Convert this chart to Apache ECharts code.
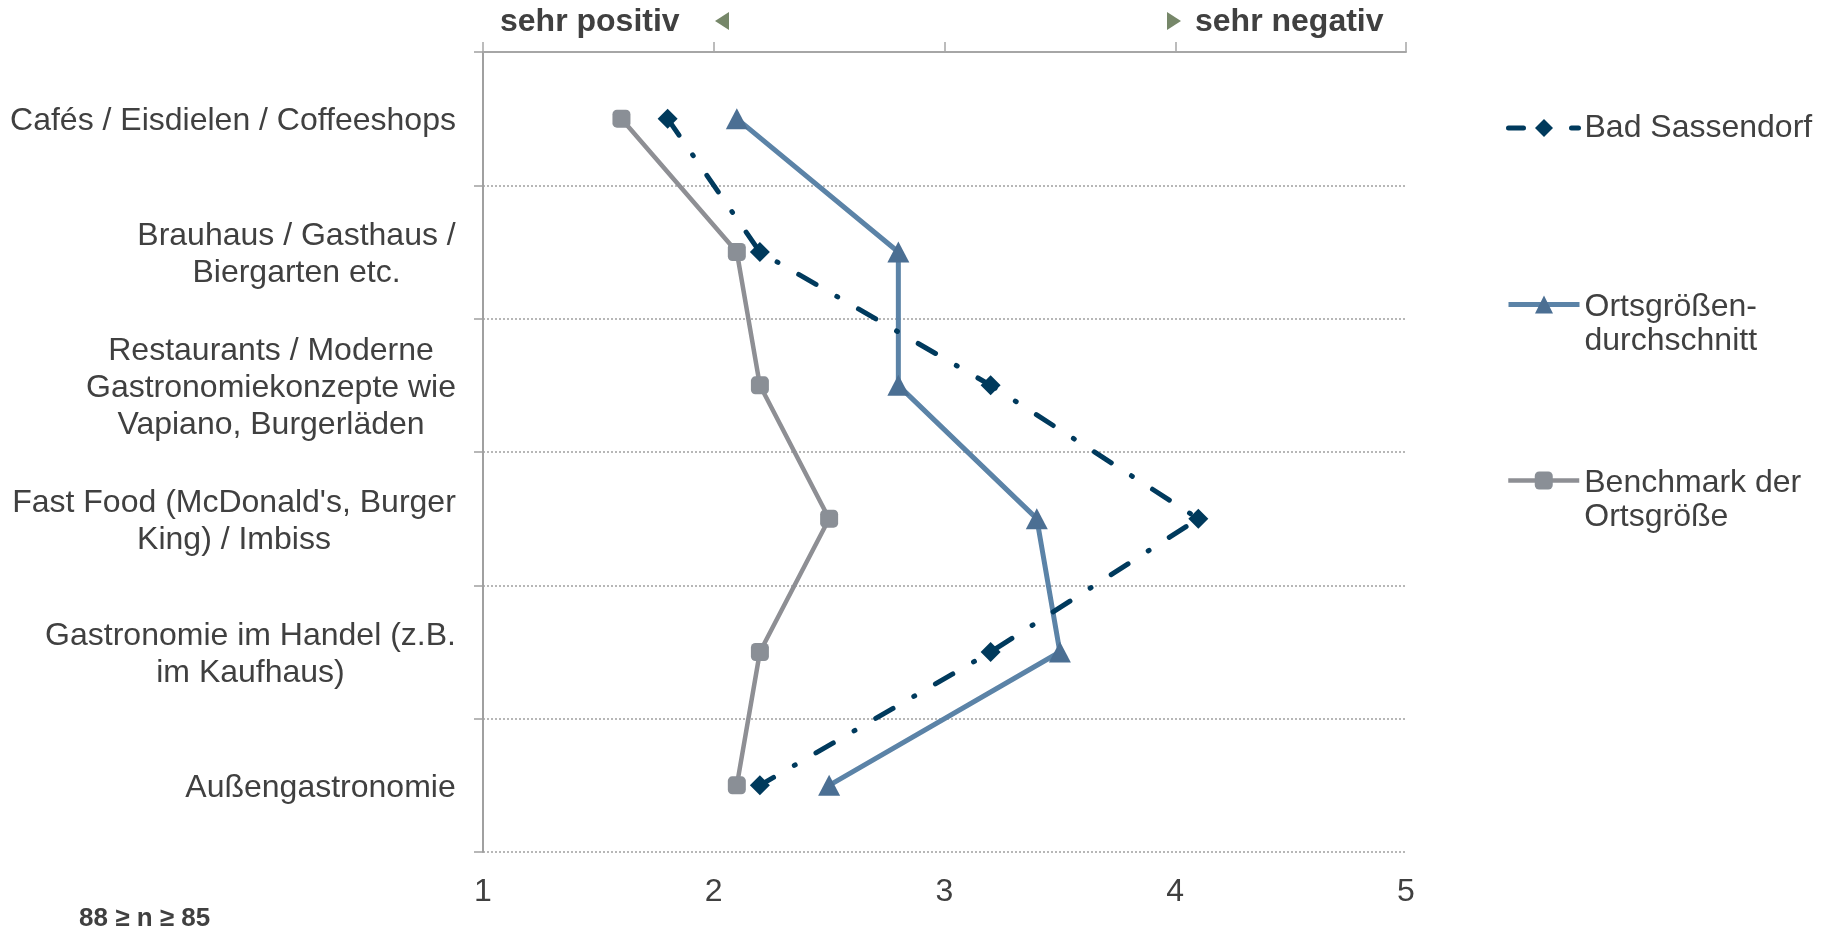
<!DOCTYPE html>
<html>
<head>
<meta charset="utf-8">
<script src="https://cdn.jsdelivr.net/npm/echarts@6/dist/echarts.min.js"></script>
<style>
html,body{margin:0;padding:0;background:#fff;}
#chart{width:1825px;height:927px;}
</style>
</head>
<body>
<div id="chart"></div>
<script>
// ---- data ----
const categories = [
  "Cafés / Eisdielen / Coffeeshops",
  "Brauhaus / Gasthaus /\nBiergarten etc.",
  "Restaurants / Moderne\nGastronomiekonzepte wie\nVapiano, Burgerläden",
  "Fast Food (McDonald's, Burger\nKing) / Imbiss",
  "Gastronomie im Handel (z.B.\nim Kaufhaus)",
  "Außengastronomie"
];
const badSassendorf = [1.8, 2.2, 3.2, 4.1, 3.2, 2.2];
const ortsgroessenDurchschnitt = [2.1, 2.8, 2.8, 3.4, 3.5, 2.5];
const benchmarkOrtsgroesse = [1.6, 2.1, 2.2, 2.5, 2.2, 2.1];
const xTicks = [1, 2, 3, 4, 5];
const seriesNames = ["Bad Sassendorf", "Ortsgrößendurchschnitt", "Benchmark der Ortsgröße"];
const legendTexts = ["Bad Sassendorf", "Ortsgrößen-\ndurchschnitt", "Benchmark der\nOrtsgröße"];
const headerLeft = "sehr positiv";
const headerRight = "sehr negativ";
const footnote = "88 ≥ n ≥ 85";

// ---- styles ----
const FONT = '"Liberation Sans", Arial, sans-serif';
const TXT = '#404040';
const LBL_SIZE = 32;
const LBL_LH = 37;

// measure label widths for centered multi-line blocks
const cv = document.createElement('canvas').getContext('2d');
cv.font = LBL_SIZE + 'px "Liberation Sans"';
const rich = {};
categories.forEach((c, i) => {
  const w = Math.max(...c.split('\n').map(l => cv.measureText(l).width));
  rich['c' + i] = {width: Math.ceil(w), align: 'center', fontSize: LBL_SIZE, lineHeight: LBL_LH, color: TXT, fontFamily: FONT};
});

const chart = echarts.init(document.getElementById('chart'), null, {renderer: 'canvas'});

const toData = vals => vals.map((v, i) => [v, categories[i]]);

// legend label: first line aligned with the icon, the following lines below it
const legendFormatter = n => {
  const lines = legendTexts[seriesNames.indexOf(n)].split('\n');
  if (lines.length === 1) return '{s|' + lines[0] + '}';
  return lines.map((l, i) => (i === 0 ? '{f|' : '{s|') + l + '}').join('\n');
};
const legendRich = {
  f: {fontSize: LBL_SIZE, lineHeight: LBL_LH * 2, verticalAlign: 'bottom', color: TXT, fontFamily: FONT},
  s: {fontSize: LBL_SIZE, lineHeight: LBL_LH, color: TXT, fontFamily: FONT}
};

const legendBase = {
  orient: 'vertical',
  left: 1506,
  padding: 0,
  itemWidth: 71,
  itemHeight: 22.5,
  itemGap: 0,
  textStyle: {fontSize: LBL_SIZE, color: TXT, fontFamily: FONT, rich: legendRich},
  formatter: legendFormatter
};

const option = {
  backgroundColor: '#fff',
  animation: false,
  grid: {left: 483, top: 52, width: 923, height: 800, containLabel: false},
  xAxis: [
    {
      type: 'value', position: 'bottom', min: xTicks[0], max: xTicks[xTicks.length - 1], interval: 1,
      axisLine: {show: false}, axisTick: {show: false}, splitLine: {show: false},
      axisLabel: {fontSize: LBL_SIZE, color: TXT, fontFamily: FONT, margin: 24}
    },
    {
      type: 'value', position: 'top', min: xTicks[0], max: xTicks[xTicks.length - 1], interval: 1,
      axisLine: {show: true, lineStyle: {color: '#a6a6a6', width: 2}},
      axisTick: {show: true, length: 10, lineStyle: {color: '#a6a6a6', width: 1.5}},
      axisLabel: {show: false}, splitLine: {show: false}
    }
  ],
  yAxis: {
    type: 'category', inverse: true, data: categories, boundaryGap: true,
    axisLine: {show: true, lineStyle: {color: '#a0a0a0', width: 2}},
    axisTick: {show: true, length: 9, lineStyle: {color: '#a0a0a0', width: 1.5}},
    splitLine: {show: true, showMinLine: true, showMaxLine: true, lineStyle: {color: '#a0a0a0', width: 1.5, type: [2, 2]}},
    axisLabel: {
      margin: 27, align: 'right', padding: [6, 0, 0, 0],
      formatter: (val, idx) => val.split('\n').map(l => '{c' + idx + '|' + l + '}').join('\n'),
      rich: rich
    }
  },
  legend: [
    Object.assign({}, legendBase, {top: 112, data: [seriesNames[0]],
      lineStyle: {width: 5, type: [15, 48, 7, 100], cap: 'round'}}),
    Object.assign({}, legendBase, {top: 291, data: [seriesNames[1]],
      lineStyle: {width: 5}}),
    Object.assign({}, legendBase, {top: 467, data: [seriesNames[2]],
      lineStyle: {width: 4.5}})
  ],
  series: [
    {
      name: seriesNames[2], type: 'line', xAxisIndex: 0, data: toData(benchmarkOrtsgroesse),
      symbol: 'roundRect', symbolSize: 18,
      lineStyle: {color: '#8e8f94', width: 4.5},
      itemStyle: {color: '#8a8f96'}, z: 2
    },
    {
      name: seriesNames[1], type: 'line', xAxisIndex: 0, data: toData(ortsgroessenDurchschnitt),
      symbol: 'triangle', symbolSize: [22, 21],
      lineStyle: {color: '#5b83a7', width: 5},
      itemStyle: {color: '#4b6f93'}, z: 3
    },
    {
      name: seriesNames[0], type: 'line', xAxisIndex: 0, data: toData(badSassendorf),
      symbol: 'diamond', symbolSize: 20,
      lineStyle: {color: '#003a5d', width: 5, type: [20, 24, 1, 24], cap: 'round'},
      itemStyle: {color: '#003a5c'}, z: 4
    }
  ],
  graphic: [
    {type: 'text', left: 500, top: 6, style: {text: headerLeft, font: 'bold 32px ' + FONT, fill: TXT}},
    {type: 'polygon', shape: {points: [[715, 21], [729, 12], [729, 30]]}, style: {fill: '#768769'}},
    {type: 'polygon', shape: {points: [[1167, 12], [1181, 21], [1167, 30]]}, style: {fill: '#768769'}},
    {type: 'text', left: 1195, top: 6, style: {text: headerRight, font: 'bold 32px ' + FONT, fill: TXT}},
    {type: 'text', left: 79, top: 905.5, style: {text: footnote, font: 'bold 26px ' + FONT, fill: TXT}}
  ]
};

chart.setOption(option);
</script>
</body>
</html>
